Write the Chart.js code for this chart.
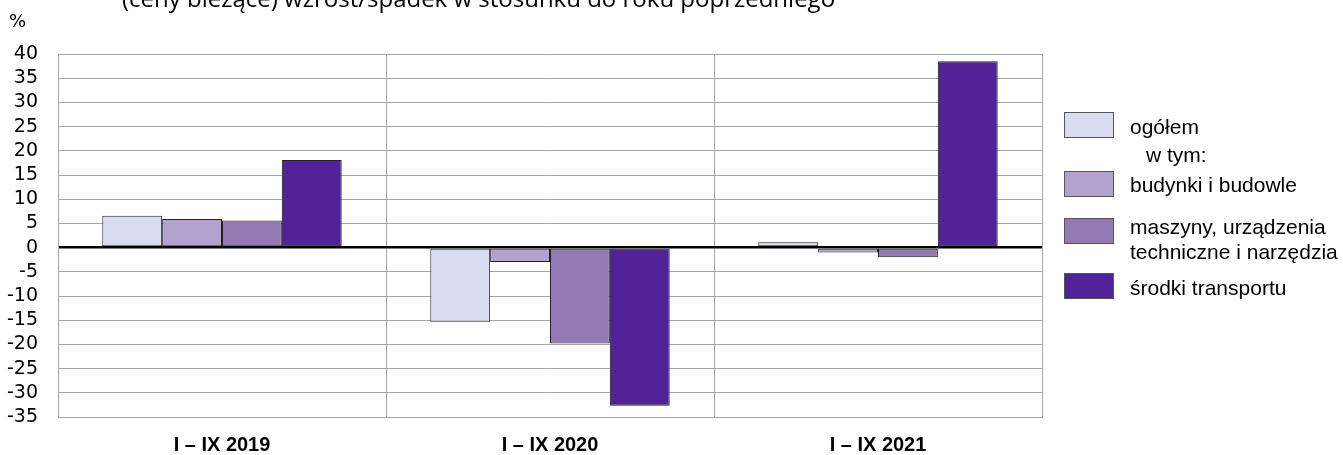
<!DOCTYPE html>
<html>
<head>
<meta charset="utf-8">
<script src="https://cdn.jsdelivr.net/npm/chart.js@4"></script>
<style>
  body { margin: 0; background: #fff; }
  #wrap { position: relative; width: 1343px; height: 455px; overflow: hidden; }
  #legend { position: absolute; left: 1064px; top: 0; width: 279px; height: 455px; font-family: "Liberation Sans", Arial, sans-serif; font-size: 21px; color: #000; }
  .box { position: absolute; left: 0; width: 48px; height: 24px; border: 1px solid #555; }
  .lbl { position: absolute; left: 66px; line-height: 25px; white-space: nowrap; }
</style>
</head>
<body>
<div id="wrap">
  <canvas id="chart" width="1343" height="455"></canvas>
  <div id="legend"></div>
</div>
<script>
// wartości (%)
const categories = ["I – IX 2019", "I – IX 2020", "I – IX 2021"];
const seriesNames = ["ogółem", "budynki i budowle", "maszyny, urządzenia\ntechniczne i narzędzia", "środki transportu"];
const ogolem = [6.6, -15.3, 1.1];
const budynki = [5.9, -3.0, -1.0];
const maszyny = [5.6, -19.8, -2.0];
const transport = [18.1, -32.7, 38.5];
const colors = ["#d9dbf0", "#b3a2cf", "#9478b4", "#522398"];
const yMin = -35, yMax = 40, yStep = 5;

const titleText = "(ceny bieżące) wzrost/spadek w stosunku do roku poprzedniego";

const extraText = {
  id: "extraText",
  afterDraw(chart) {
    const ctx = chart.ctx;
    ctx.save();
    ctx.fillStyle = "#000";
    ctx.textBaseline = "alphabetic";
    ctx.font = '24px "Open Sans", sans-serif';
    ctx.fillText(titleText, 122, 7);
    ctx.font = '18px "DejaVu Sans", sans-serif';
    ctx.fillText("%", 9, 27);
    ctx.restore();
  }
};

const values = [ogolem, budynki, maszyny, transport];
const datasets = values.map((v, i) => ({
  label: seriesNames[i],
  data: v,
  backgroundColor: colors[i],
  borderColor: "#222",
  borderWidth: 1,
  borderSkipped: false,
  categoryPercentage: 0.73,
  barPercentage: 1.0
}));

new Chart(document.getElementById("chart"), {
  type: "bar",
  data: { labels: categories, datasets },
  plugins: [extraText],
  options: {
    responsive: false,
    animation: false,
    layout: { padding: { top: 54, right: 301, left: 0, bottom: 0 } },
    plugins: { legend: { display: false }, tooltip: { enabled: false } },
    scales: {
      x: {
        grid: { offset: true, color: "#a6a6a6", lineWidth: 1, drawTicks: false },
        border: { color: "#a6a6a6", width: 1 },
        ticks: {
          color: "#000",
          padding: 16,
          font: { family: "'Liberation Sans Narrow', 'Liberation Sans', sans-serif", size: 20, weight: "bold" }
        },
        afterFit: s => { s.height = 38; }
      },
      y: {
        min: yMin,
        max: yMax,
        ticks: {
          stepSize: yStep,
          autoSkip: false,
          color: "#000",
          padding: 20,
          font: { family: "'DejaVu Sans', sans-serif", size: 19, lineHeight: 1 }
        },
        grid: {
          drawTicks: false,
          color: c => (c.tick && c.tick.value === 0 ? "#000" : "#a6a6a6"),
          lineWidth: c => (c.tick && c.tick.value === 0 ? 2.5 : 1)
        },
        border: { color: "#a6a6a6", width: 1 },
        afterFit: s => { s.width = 58; }
      }
    }
  }
});

// legenda
const legendRows = [
  { box: 0, boxTop: 112, text: "ogółem", textTop: 114 },
  { box: null, text: "w tym:", textTop: 142, indent: 16 },
  { box: 1, boxTop: 171, text: seriesNames[1], textTop: 172 },
  { box: 2, boxTop: 218, text: seriesNames[2], textTop: 214 },
  { box: 3, boxTop: 273, text: seriesNames[3], textTop: 275 }
];
const legend = document.getElementById("legend");
legendRows.forEach(r => {
  if (r.box !== null) {
    const b = document.createElement("div");
    b.className = "box";
    b.style.top = r.boxTop + "px";
    b.style.background = colors[r.box];
    legend.appendChild(b);
  }
  const t = document.createElement("div");
  t.className = "lbl";
  t.style.top = r.textTop + "px";
  if (r.indent) t.style.left = (66 + r.indent) + "px";
  t.innerHTML = r.text.replace("\n", "<br>");
  legend.appendChild(t);
});
</script>
</body>
</html>
